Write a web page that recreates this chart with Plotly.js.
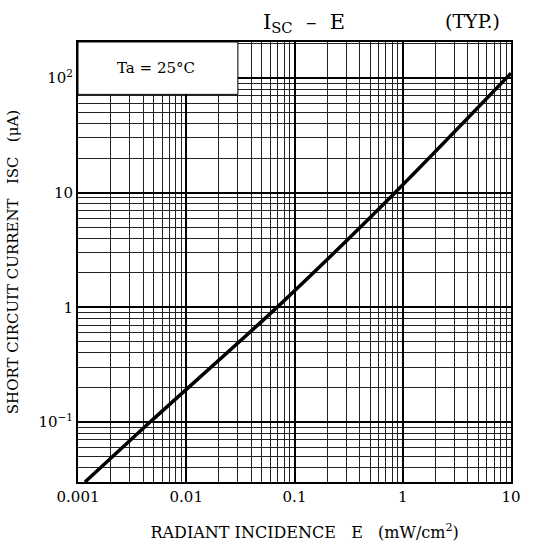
<!DOCTYPE html>
<html><head><meta charset="utf-8">
<script src="https://cdn.plot.ly/plotly-3.0.1.min.js"></script>
<style>html,body{margin:0;padding:0;background:#fff}</style>
</head><body><div id="chart" style="width:547px;height:544px"></div>
<script>
// Data
var irradiance = [0.00116, 0.00463, 0.0689, 0.848, 10];   // mW/cm2
var isc = [0.030, 0.1, 1, 10, 110];                       // uA
var xTickVals = [0.001, 0.01, 0.1, 1, 10];
var xTickText = ["0.001", "0.01", "0.1", "1", "10"];
var yTickVals = [0.1, 1, 10, 100];
var yTickText = ["10<sup>\u22121</sup>", "1", "10", "10<sup>2</sup>"];

function minorVals(lo, hi) {
  var v = [];
  for (var d = lo; d <= hi; d++) {
    for (var k = 2; k <= 9; k++) v.push(k * Math.pow(10, d));
  }
  return v;
}

var font = "DejaVu Serif, Liberation Serif, serif";

var trace = {
  x: irradiance, y: isc, type: "scatter", mode: "lines",
  line: {color: "#000", width: 3.5, shape: "spline", smoothing: 0.8}, hoverinfo: "skip"
};

var layout = {
  width: 547, height: 544,
  margin: {l: 78, r: 36, t: 42, b: 62},
  paper_bgcolor: "#fff", plot_bgcolor: "#fff",
  showlegend: false,
  font: {family: font, color: "#000", size: 15},
  xaxis: {
    type: "log", range: [-3, 1],
    tickmode: "array", tickvals: xTickVals, ticktext: xTickText,
    ticks: "", showgrid: true, gridcolor: "#000", gridwidth: 2,
    minor: {tickmode: "array", tickvals: minorVals(-3, 0), showgrid: true, gridcolor: "#222", gridwidth: 1, ticks: ""},
    showline: true, linecolor: "#000", linewidth: 2, mirror: true,
    zeroline: false, tickfont: {size: 15, family: font},
    title: {text: "&nbsp;&nbsp;&nbsp;&nbsp;RADIANT INCIDENCE&nbsp;&nbsp;&nbsp;E&nbsp;&nbsp;&nbsp;(mW/cm<sup>2</sup>)", font: {size: 16, family: font}, standoff: 22}
  },
  yaxis: {
    type: "log", range: [-1.523, 2.314],
    tickmode: "array", tickvals: yTickVals, ticktext: yTickText,
    ticks: "", showgrid: true, gridcolor: "#000", gridwidth: 2,
    minor: {tickmode: "array", tickvals: minorVals(-2, 2), showgrid: true, gridcolor: "#222", gridwidth: 1, ticks: ""},
    showline: true, linecolor: "#000", linewidth: 2, mirror: true,
    zeroline: false, tickfont: {size: 15, family: font},
    title: {text: "SHORT CIRCUIT CURRENT&nbsp;&nbsp;&nbsp;ISC&nbsp;&nbsp;&nbsp;(\u03bcA)", font: {size: 15, family: font}, standoff: 16}
  },
  shapes: [{
    type: "rect", layer: "above", xref: "x", yref: "y",
    x0: 0.001, x1: 0.03, y0: 72, y1: Math.pow(10, 2.314),
    fillcolor: "#fff", line: {color: "#000", width: 1}
  }],
  annotations: [
    {text: "Ta = 25\u00b0C", xref: "paper", yref: "paper", x: 0.18, y: 0.942, xanchor: "center", yanchor: "middle", showarrow: false, font: {size: 15, family: font}},
    {text: "I<sub>SC</sub>&nbsp;&nbsp;\u2013&nbsp;&nbsp;E", xref: "paper", yref: "paper", x: 0.522, y: 1.0, xanchor: "center", yanchor: "bottom", yshift: 4, showarrow: false, font: {size: 21, family: font}},
    {text: "(TYP.)", xref: "paper", yref: "paper", x: 0.91, y: 1.0, xanchor: "center", yanchor: "bottom", yshift: 8, showarrow: false, font: {size: 19, family: font}}
  ]
};

Plotly.newPlot("chart", [trace], layout, {displayModeBar: false, staticPlot: true});
</script></body></html>
